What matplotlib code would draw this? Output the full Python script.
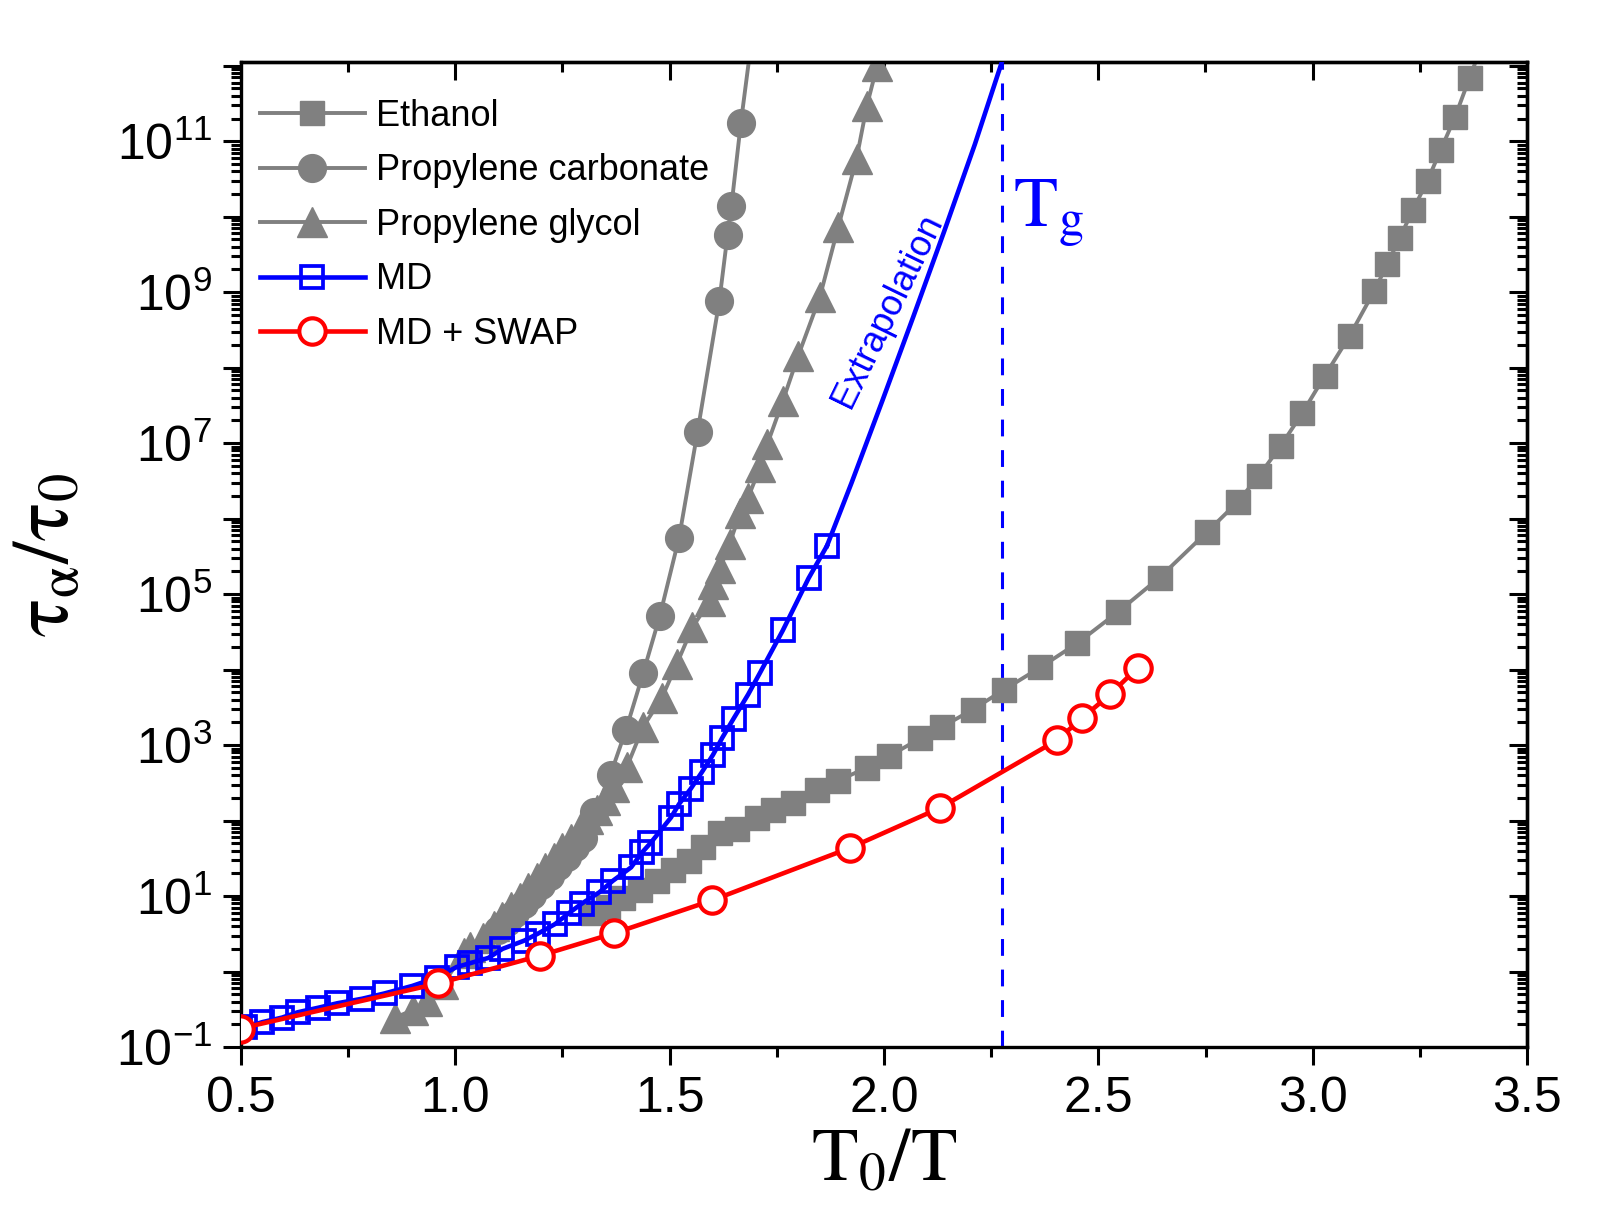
import numpy as np
import matplotlib
matplotlib.use("Agg")
import matplotlib.pyplot as plt
from matplotlib import font_manager
from matplotlib.ticker import FixedLocator, MultipleLocator, FuncFormatter, LogLocator, NullFormatter

# ---------------- data (x = T0/T, values given as log10(tau_alpha/tau_0)) ----------------
ethanol_x = [1.321, 1.355, 1.391, 1.431, 1.470, 1.508, 1.546, 1.577, 1.618, 1.656, 1.704,
             1.740, 1.788, 1.843, 1.893, 1.960, 2.011, 2.085, 2.135, 2.207, 2.279, 2.365,
             2.451, 2.545, 2.643, 2.753, 2.825, 2.875, 2.925, 2.976, 3.028, 3.086, 3.143,
             3.174, 3.203, 3.234, 3.268, 3.299, 3.332, 3.366, 3.402]
ethanol_logtau = [0.77, 0.85, 0.98, 1.08, 1.20, 1.34, 1.47, 1.65, 1.83, 1.89, 2.04,
                  2.14, 2.23, 2.40, 2.53, 2.70, 2.85, 3.09, 3.24, 3.47, 3.73, 4.03,
                  4.35, 4.76, 5.22, 5.82, 6.22, 6.57, 6.96, 7.40, 7.89, 8.42, 9.01,
                  9.37, 9.72, 10.09, 10.48, 10.89, 11.32, 11.84, 12.38]

pc_x = [1.10, 1.12, 1.14, 1.16, 1.18, 1.20, 1.22, 1.24, 1.26, 1.28, 1.297, 1.324, 1.362,
        1.398, 1.438, 1.477, 1.522, 1.565, 1.616, 1.635, 1.644, 1.666, 1.697]
pc_logtau = [0.55, 0.66, 0.78, 0.90, 1.02, 1.14, 1.27, 1.40, 1.52, 1.65, 1.77, 2.11, 2.61,
             3.20, 3.95, 4.71, 5.75, 7.15, 8.89, 9.76, 10.14, 11.24, 12.60]

pg_x = [0.859, 0.902, 0.933, 0.972, 1.020, 1.034, 1.065, 1.09, 1.11, 1.13, 1.15, 1.17,
        1.19, 1.21, 1.23, 1.25, 1.27, 1.29, 1.31, 1.33, 1.35, 1.369, 1.400, 1.438, 1.482,
        1.517, 1.553, 1.594, 1.601, 1.618, 1.640, 1.664, 1.683, 1.711, 1.728, 1.764,
        1.800, 1.850, 1.893, 1.936, 1.960, 1.984]
pg_logtau = [-0.61, -0.51, -0.39, -0.16, 0.24, 0.32, 0.45, 0.60, 0.72, 0.85, 0.98, 1.11,
             1.24, 1.37, 1.50, 1.63, 1.76, 1.89, 2.02, 2.14, 2.27, 2.44, 2.71, 3.24, 3.63,
             4.08, 4.56, 4.91, 5.14, 5.35, 5.67, 6.07, 6.28, 6.68, 6.99, 7.56,
             8.16, 8.93, 9.86, 10.77, 11.47, 12.00]

md_x = [0.510, 0.550, 0.596, 0.632, 0.680, 0.725, 0.783, 0.835, 0.900, 0.957, 1.003,
        1.034, 1.077, 1.110, 1.161, 1.192, 1.233, 1.264, 1.295, 1.336, 1.367, 1.410,
        1.436, 1.455, 1.503, 1.522, 1.549, 1.575, 1.601, 1.623, 1.649, 1.683, 1.711,
        1.764, 1.824, 1.867]
md_logtau = [-0.74, -0.67, -0.61, -0.54, -0.48, -0.42, -0.36, -0.29, -0.19, -0.08, 0.06,
             0.11, 0.18, 0.30, 0.41, 0.50, 0.63, 0.77, 0.90, 1.05, 1.20, 1.38,
             1.58, 1.70, 2.04, 2.22, 2.42, 2.64, 2.87, 3.10, 3.35, 3.67, 3.96,
             4.52, 5.21, 5.64]

extrap_x = [1.867, 1.924, 1.996, 2.068, 2.140, 2.212, 2.275]
extrap_logtau = [5.64, 6.47, 7.56, 8.67, 9.80, 10.96, 12.05]

swap_x = [0.498, 0.960, 1.197, 1.371, 1.599, 1.920, 2.130, 2.403, 2.463, 2.528, 2.592]
swap_logtau = [-0.755, -0.158, 0.209, 0.508, 0.943, 1.636, 2.166, 3.063, 3.361, 3.674, 4.027]

tg_x = 2.275
labels = ["Ethanol", "Propylene carbonate", "Propylene glycol", "MD", "MD + SWAP"]

# ---------------- style ----------------
names = {f.name for f in font_manager.fontManager.ttflist}
sans = "Liberation Sans" if "Liberation Sans" in names else "DejaVu Sans"
plt.rcParams["font.family"] = [sans, "DejaVu Sans"]
plt.rcParams["mathtext.fontset"] = "stix"

GRAY = "#808080"
BLUE = "#0000FF"
RED = "#FF0000"

W, H = 1609, 1232
fig = plt.figure(figsize=(W / 100, H / 100), dpi=100)
L, R, T, B = 241, 1527, 62, 1047
ax = fig.add_axes([L / W, 1 - B / H, (R - L) / W, (B - T) / H])


def tau(v):
    return np.power(10.0, np.asarray(v, dtype=float))


ax.plot(ethanol_x, tau(ethanol_logtau), "-s", color=GRAY, lw=2.8, ms=17, mec=GRAY,
        mfc=GRAY, label=labels[0], zorder=2)
ax.plot(pc_x, tau(pc_logtau), "-o", color=GRAY, lw=2.8, ms=20, mec=GRAY, mfc=GRAY,
        label=labels[1], zorder=2)
ax.plot(pg_x, tau(pg_logtau), "-^", color=GRAY, lw=2.8, ms=21, mec=GRAY, mfc=GRAY,
        label=labels[2], zorder=2)
ax.plot(extrap_x, tau(extrap_logtau), "-", color=BLUE, lw=3.3, zorder=3)
ax.plot(md_x, tau(md_logtau), "-s", color=BLUE, lw=3.3, ms=16.5, mew=2.7, mec=BLUE,
        mfc="none", label=labels[3], zorder=3)
ax.plot(swap_x, tau(swap_logtau), "-o", color=RED, lw=3.3, ms=19, mew=3, mec=RED,
        mfc="white", label=labels[4], zorder=4)

ax.axvline(tg_x, color=BLUE, lw=2.2, ls=(0, (5.5, 4.5)), zorder=1)

ax.set_yscale("log")
ax.set_xlim(0.5, 3.5)
ax.set_ylim(0.1, 10 ** 12.05)

# ticks
ax.xaxis.set_major_locator(MultipleLocator(0.5))
ax.xaxis.set_minor_locator(MultipleLocator(0.25))
ax.xaxis.set_major_formatter(FuncFormatter(lambda v, p: f"{v:.1f}"))
ax.yaxis.set_major_locator(FixedLocator(10.0 ** np.arange(-1, 13)))
ax.yaxis.set_minor_locator(LogLocator(base=10, subs=np.arange(2, 10), numticks=100))
ax.yaxis.set_minor_formatter(NullFormatter())


def yfmt(v, p):
    e = int(round(np.log10(v)))
    if e % 2 == 0:
        return ""
    return r"$\mathregular{10^{%d}}$" % e


ax.yaxis.set_major_formatter(FuncFormatter(yfmt))
ax.tick_params(which="both", direction="out", width=2.2, top=False, right=False)
ax.tick_params(which="major", length=13, pad=8, labelsize=36)
ax.tick_params(which="minor", length=7)

for s in ax.spines.values():
    s.set_linewidth(2.4)

secx = ax.secondary_xaxis("top")
secx.xaxis.set_major_locator(MultipleLocator(0.5))
secx.xaxis.set_minor_locator(MultipleLocator(0.25))
secx.tick_params(which="both", direction="in", width=2.2, labeltop=False)
secx.tick_params(which="major", length=13)
secx.tick_params(which="minor", length=7)
secx.spines["top"].set_linewidth(2.4)

secy = ax.secondary_yaxis("right")
secy.yaxis.set_major_locator(FixedLocator(10.0 ** np.arange(-1, 13)))
secy.yaxis.set_minor_locator(LogLocator(base=10, subs=np.arange(2, 10), numticks=100))
secy.tick_params(which="both", direction="in", width=2.2, labelright=False)
secy.tick_params(which="major", length=13)
secy.tick_params(which="minor", length=7)
secy.spines["right"].set_linewidth(2.4)

# labels
ax.set_xlabel(r"$\mathrm{T}_0/\mathrm{T}$", fontsize=55, labelpad=2)
ax.set_ylabel(r"$\mathrm{\tau}_{\mathrm{\alpha}}/\mathrm{\tau}_0$", fontsize=58)
ax.yaxis.set_label_coords(-0.12, 0.5)

ax.text(2.30, 10 ** 9.87, r"$\mathrm{T}_\mathrm{g}$", color=BLUE, fontsize=52,
        ha="left", va="baseline")
ax.text(2.008, 10 ** 8.76, "Extrapolation", color=BLUE, fontsize=26, rotation=64,
        rotation_mode="anchor", ha="center", va="center")

ax.legend(loc="upper left", bbox_to_anchor=(0.0, 0.982), frameon=False, fontsize=26,
          handlelength=2.9, handletextpad=0.3, labelspacing=0.54, borderaxespad=0.2,
          borderpad=0.33)

fig.savefig("out.png", dpi=100)
